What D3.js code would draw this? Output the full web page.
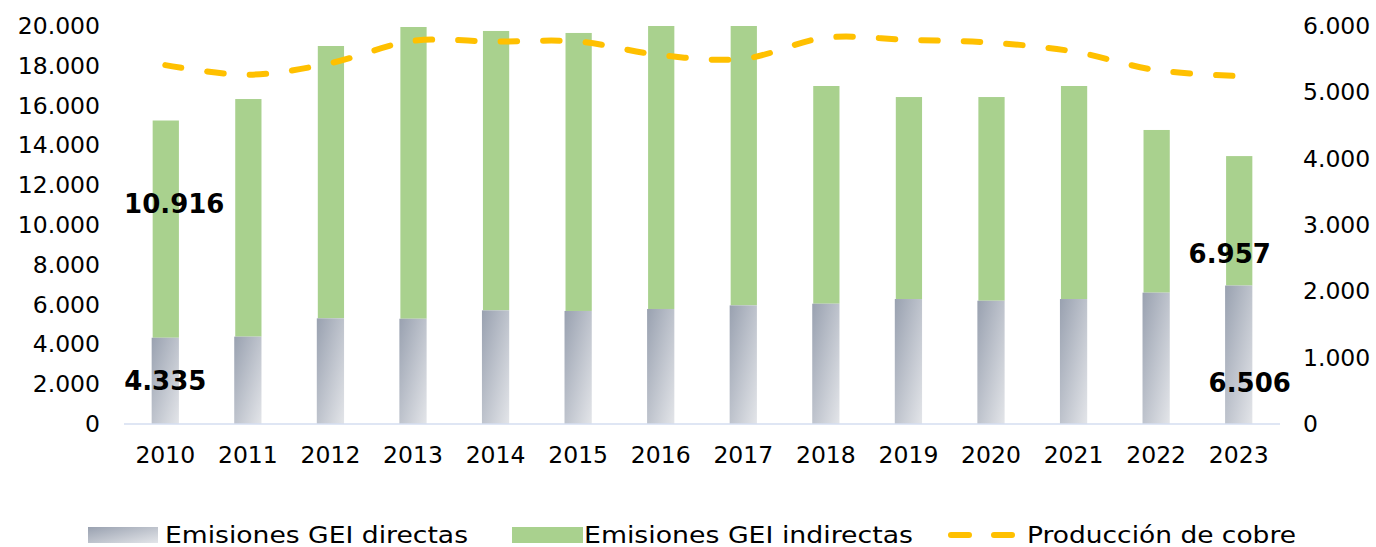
<!DOCTYPE html>
<html>
<head>
<meta charset="utf-8">
<script src="https://cdn.jsdelivr.net/npm/d3@7"></script>
<style>
  body { margin: 0; background: #fff; }
  svg { display: block; font-family: "DejaVu Sans", Verdana, sans-serif; }
</style>
</head>
<body>
<svg class="chart" width="1376" height="547"></svg>
<script>
const years = ["2010","2011","2012","2013","2014","2015","2016","2017","2018","2019","2020","2021","2022","2023"];
const directas = [4335, 4390, 5310, 5290, 5710, 5680, 5780, 5960, 6045, 6280, 6195, 6280, 6600, 6957];
const indirectas = [10916, 11940, 13685, 14660, 14040, 13970, 14220, 14040, 10940, 10150, 10235, 10705, 8175, 6506];
const produccion = [5410, 5265, 5440, 5775, 5765, 5765, 5560, 5505, 5825, 5790, 5750, 5615, 5335, 5245];
const leftTicks = [0, 2000, 4000, 6000, 8000, 10000, 12000, 14000, 16000, 18000, 20000];
const rightTicks = [0, 1000, 2000, 3000, 4000, 5000, 6000];
const legendLabels = ["Emisiones GEI directas", "Emisiones GEI indirectas", "Producción de cobre"];

const svg = d3.select(".chart");
const fmt = (v) => d3.format(",")(v).replace(/,/g, ".");

const x = d3.scaleBand().domain(years).range([124, 1280]).paddingInner(0.67).paddingOuter(0.335);
const yL = d3.scaleLinear().domain([0, 20000]).range([424, 26]);
const yR = d3.scaleLinear().domain([0, 6000]).range([424, 26]);

const defs = svg.append("defs");
const grad = defs.append("linearGradient")
    .attr("id", "grayGrad")
    .attr("x1", 0).attr("y1", 0).attr("x2", 1).attr("y2", 1);
grad.append("stop").attr("offset", "0%").attr("stop-color", "#99a1b0");
grad.append("stop").attr("offset", "100%").attr("stop-color", "#e3e5e9");

// axes (text only)
const axisL = svg.append("g")
    .attr("transform", "translate(100,0)")
    .call(d3.axisLeft(yL).tickValues(leftTicks).tickFormat(fmt).tickSize(0).tickPadding(0));
const axisR = svg.append("g")
    .attr("transform", "translate(1303,0)")
    .call(d3.axisRight(yR).tickValues(rightTicks).tickFormat(fmt).tickSize(0).tickPadding(0));
const axisB = svg.append("g")
    .attr("transform", "translate(0,424)")
    .call(d3.axisBottom(x).tickSize(0).tickPadding(22));
[axisL, axisR, axisB].forEach(g => {
    g.select(".domain").remove();
    g.selectAll("text").style("font-size", "23.5px").style("font-family", "DejaVu Sans").attr("fill", "#000");
});

// bars
const data = years.map((yr, i) => ({ yr, d: directas[i], ind: indirectas[i], p: produccion[i] }));

svg.selectAll(".ind")
    .data(data)
    .enter().append("rect")
    .attr("class", "ind")
    .attr("x", (d) => x(d.yr) + 1)
    .attr("width", x.bandwidth() - 1)
    .attr("y", (d) => yL(d.d + d.ind))
    .attr("height", (d) => yL(d.d) - yL(d.d + d.ind))
    .style("fill", "#a9d18e");

svg.selectAll(".dir")
    .data(data)
    .enter().append("rect")
    .attr("class", "dir")
    .attr("x", (d) => x(d.yr))
    .attr("width", x.bandwidth())
    .attr("y", (d) => yL(d.d))
    .attr("height", (d) => yL(0) - yL(d.d))
    .style("fill", "url(#grayGrad)");

// baseline
svg.append("line")
    .attr("x1", 124).attr("x2", 1280)
    .attr("y1", yL(0)).attr("y2", yL(0))
    .style("stroke", "#d5def0")
    .style("stroke-width", 1.5);

// production line
const line = d3.line()
    .x((d) => x(d.yr) + x.bandwidth() / 2)
    .y((d) => yR(d.p))
    .curve(d3.curveCatmullRom.alpha(0.5));

svg.append("path")
    .datum(data)
    .attr("d", line)
    .style("fill", "none")
    .style("stroke", "#ffc000")
    .style("stroke-width", 6)
    .style("stroke-linecap", "round")
    .style("stroke-dasharray", "16.5,26");

// value labels on first and last bars (manually placed, as in the original)
const first = data[0], last = data[data.length - 1];
const cx = (d) => x(d.yr) + x.bandwidth() / 2;
const labels = [
    { text: fmt(first.ind), x: cx(first) + 9, y: yL(first.d + first.ind / 2) - 16 },
    { text: fmt(first.d), x: cx(first), y: yL(first.d / 2) + 9 },
    { text: fmt(last.d), x: cx(last) - 9, y: yL(last.d + last.ind / 2) + 42 },
    { text: fmt(last.ind), x: cx(last) + 11, y: yL(last.d / 2) + 37 }
];
svg.selectAll(".vlabel")
    .data(labels)
    .enter().append("text")
    .attr("class", "vlabel")
    .attr("x", (d) => d.x)
    .attr("y", (d) => d.y)
    .attr("text-anchor", "middle")
    .style("font-size", "26px")
    .style("font-weight", "bold")
    .style("fill", "#000")
    .text((d) => d.text);

// legend
const legend = svg.append("g");
const legText = (tx, w, s) => legend.append("text")
    .attr("x", tx).attr("y", 543)
    .attr("textLength", w).attr("lengthAdjust", "spacingAndGlyphs")
    .style("font-size", "23px").text(s);
legend.append("rect").attr("x", 88).attr("y", 527).attr("width", 70).attr("height", 16).style("fill", "url(#grayGrad)");
legText(165, 303, legendLabels[0]);
legend.append("rect").attr("x", 512).attr("y", 527).attr("width", 71).attr("height", 16).style("fill", "#a9d18e");
legText(584, 329, legendLabels[1]);
legend.append("line")
    .attr("x1", 951).attr("x2", 1012).attr("y1", 535).attr("y2", 535)
    .style("stroke", "#ffc000").style("stroke-width", 6).style("stroke-linecap", "round")
    .style("stroke-dasharray", "18,25");
legText(1027, 269, legendLabels[2]);
</script>
</body>
</html>
